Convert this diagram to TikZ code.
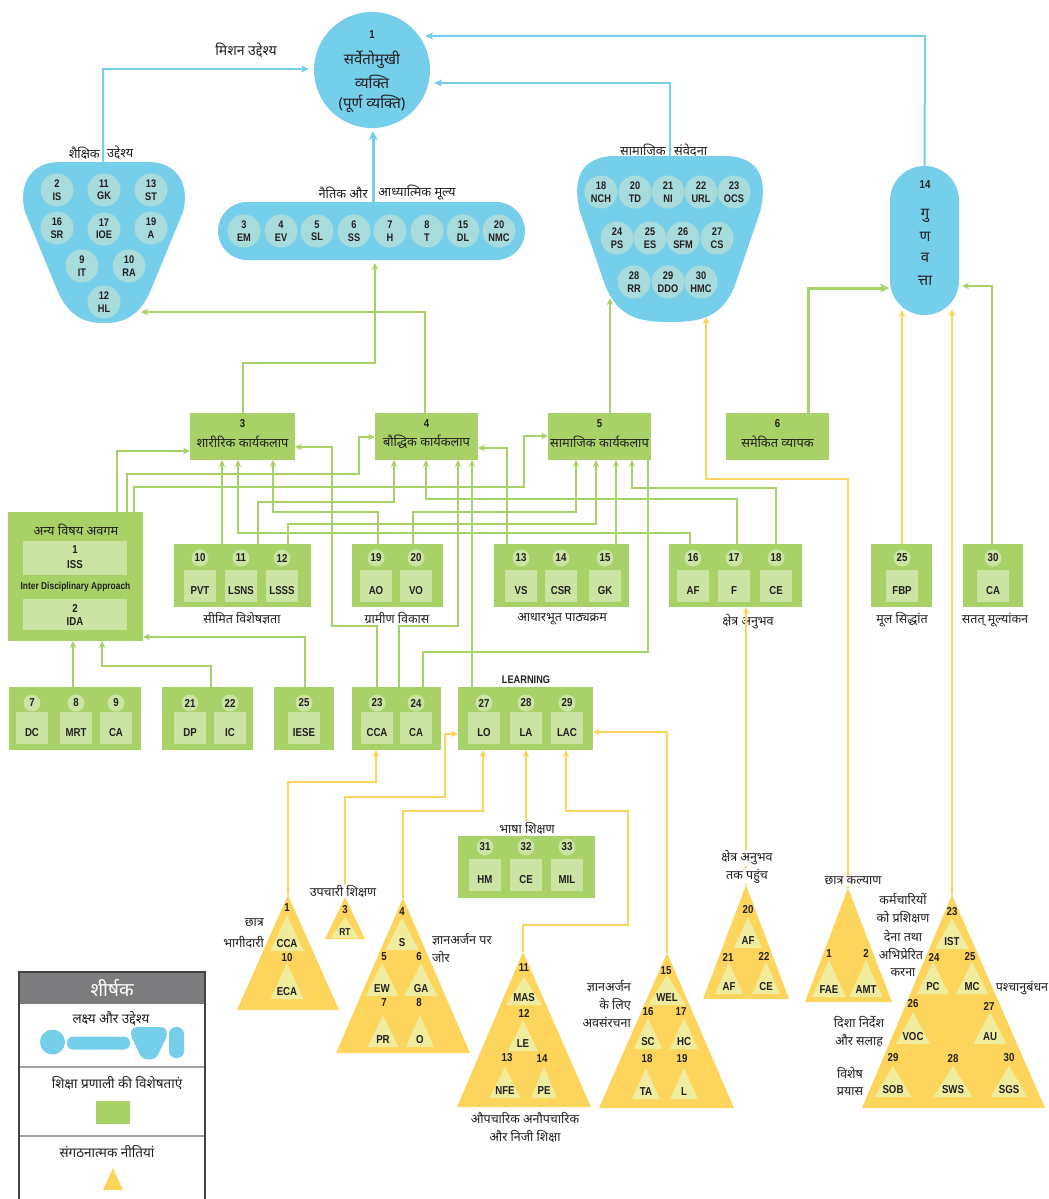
\documentclass[tikz,border=0pt]{standalone}
\usepackage{fontspec}
\setmainfont{Liberation Sans}
\newfontfamily\hin[Script=Devanagari]{Noto Sans}
\newfontfamily\cnd[FakeStretch=0.84]{Liberation Sans}
\usetikzlibrary{arrows.meta}
\definecolor{blu}{HTML}{75CFEB}
\definecolor{bin}{HTML}{A8DBDC}
\definecolor{grn}{HTML}{A8D168}
\definecolor{gin}{HTML}{CBE3A3}
\definecolor{yel}{HTML}{FDD55C}
\definecolor{yin}{HTML}{EFEC9E}
\definecolor{txt}{HTML}{231F20}
\definecolor{hdr}{HTML}{7C7C7E}
\definecolor{dvd}{HTML}{A3A3A3}
\newcommand\featitems[4]{%
  \foreach \cx/\nm/\lab in {#4}{%
    \node[ibox] (#1i\nm) at (\cx,#3) {};
    \node[ncirc] (#1n\nm) at (\cx,#2) {\nm};
    \node[cn] (#1l\nm) at (\cx,#3+21) {\lab};
  }}
\newcommand\itri[6]{%
  \fill[yin] (#2,#3) -- (#2-#5,#4) -- (#2+#5,#4) -- cycle;
  \node[cn] (#1) at (#2,#4-7) {#6};}
\begin{document}
\begin{tikzpicture}[x=1pt,y=-1pt,
  hin/.style={font=\hin\fontsize{12.5}{14}\selectfont, text=txt, inner sep=0},
  hinw/.style={hin, fill=white, inner sep=1pt},
  hinb/.style={font=\hin\fontsize{12.8}{14}\selectfont, text=txt, inner sep=0},
  hinl/.style={font=\hin\fontsize{13.5}{15}\selectfont, text=txt, inner sep=0},
  hinL/.style={font=\hin\fontsize{15}{18}\selectfont, text=txt, inner sep=0},
  cn/.style={font=\cnd\bfseries\fontsize{11.5}{12}\selectfont, text=txt, inner sep=0},
  bcirc/.style={circle, fill=bin, minimum size=33pt, inner sep=0, align=center, font=\cnd\bfseries\fontsize{11}{12.5}\selectfont, text=txt},
  gbox/.style={fill=grn, inner sep=0, outer sep=0, anchor=north west},
  ibox/.style={fill=gin, inner sep=0, outer sep=0, minimum width=32pt, minimum height=32pt, anchor=north},
  ncirc/.style={circle, fill=gin, minimum size=17pt, inner sep=0, font=\cnd\bfseries\fontsize{11.5}{12}\selectfont, text=txt},
  gl/.style={draw=grn, line width=2pt},
  ga/.style={gl, -{Stealth[length=7pt,width=6.5pt,inset=2pt]}},
  gat/.style={draw=grn, line width=3pt, -{Stealth[length=9pt,width=9pt,inset=2.5pt]}},
  yl/.style={draw=yel, line width=2pt},
  ya/.style={yl, -{Stealth[length=7pt,width=6.5pt,inset=2pt]}},
  ba/.style={draw=blu, line width=2pt, -{Stealth[length=8pt,width=7pt,inset=2pt]}},
  bat/.style={draw=blu, line width=3pt, -{Stealth[length=9pt,width=9pt,inset=2.5pt]}},
]
\useasboundingbox (0,0) rectangle (1049,1199);

% ---------------- blue goals ----------------
\node[circle, fill=blu, minimum size=116pt, inner sep=0] (main) at (372,70) {};
\node[cn] (m1) at (372,35) {1};
\node[hinL] (m2) at (372,60) {सर्वेतोमुखी};
\node[hinL] (m3) at (372,82) {व्यक्ति};
\node[hinL] (m4) at (372,104) {(पूर्ण व्यक्ति)};

% shaikshik blob
\fill[blu] (60,162) -- (148,162) .. controls (178,162) and (190,185) .. (183,212) -- (150,292) .. controls (138,318) and (122,323) .. (104,323) .. controls (86,323) and (70,318) .. (58,292) -- (25,212) .. controls (18,185) and (30,162) .. (60,162) -- cycle;
\coordinate (shtop) at (103,162);
\node[hinb, anchor=east] (shl1) at (100,153) {शैक्षिक};
\node[hinb, anchor=west] (shl2) at (107,153) {उद्देश्य};
\foreach \x/\y/\nm/\lab in {57/190/2/IS, 104/190/11/GK, 151/190/13/ST, 57/228/16/SR, 104/229/17/IOE, 151/228/19/A, 82/266/9/IT, 129/266/10/RA, 104/302/12/HL}
  \node[bcirc] (sh\nm) at (\x,\y) {\nm\\\lab};

% nitik pill
\node[fill=blu, rounded corners=29pt, minimum width=307pt, minimum height=58pt, inner sep=0] (nitik) at (371.5,231) {};
\node[hinb, anchor=east] (nil1) at (368,193) {नैतिक और};
\node[hinb, anchor=west] (nil2) at (378,193) {आध्यात्मिक मूल्य};
\foreach \x/\nm/\lab in {244/3/EM, 281/4/EV, 317/5/SL, 354/6/SS, 390/7/H, 427/8/T, 463/15/DL, 499/20/NMC}
  \node[bcirc] (ni\nm) at (\x,231) {\nm\\\lab};

% samajik blob
\fill[blu] (612,156) -- (728,156) .. controls (760,158) and (768,180) .. (760,212) -- (735,285) .. controls (722,318) and (700,322) .. (670,322) .. controls (640,322) and (618,318) .. (605,285) -- (580,212) .. controls (572,180) and (580,158) .. (612,156) -- cycle;
\coordinate (samtop) at (670,156);
\node[hinb, anchor=east] (sal1) at (666,150) {सामाजिक};
\node[hinb, anchor=west] (sal2) at (674,150) {संवेदना};
\foreach \x/\y/\nm/\lab in {601/192/18/NCH, 635/192/20/TD, 668/192/21/NI, 701/192/22/URL, 734/192/23/OCS, 617/238/24/PS, 650/238/25/ES, 683/238/26/SFM, 717/238/27/CS, 634/282/28/RR, 668/282/29/DDO, 701/282/30/HMC}
  \node[bcirc] (sa\nm) at (\x,\y) {\nm\\\lab};

% gunvatta
\node[fill=blu, rounded corners=34.5pt, minimum width=69pt, minimum height=149pt, inner sep=0] (gun) at (924.5,240.5) {};
\node[cn] (g0) at (925,185) {14};
\node[hinL] (g1) at (925,216) {गु};
\node[hinL] (g2) at (925,237) {ण};
\node[hinL] (g3) at (925,258) {व};
\node[hinL] (g4) at (925,281) {त्ता};

% blue connectors
\draw[ba] (shtop) -- (103,69) -- (309,69);
\node[font=\hin\fontsize{14}{16}\selectfont, text=txt, inner sep=0] (misl) at (246,50) {मिशन उद्देश्य};
\draw[ba] (samtop) -- (670,83) -- (434,83);
\draw[ba] (gun.north) -- (925,36) -- (425,36);
\draw[bat] (nitik.north -| 373,0) -- (373,131);

% ---------------- green boxes: top row ----------------
\node[gbox, minimum width=105pt, minimum height=47pt] (b3) at (190,413) {};
\node[cn] (b3n) at (242.5,424) {3};
\node[hinb] (b3t) at (242.5,442) {शारीरिक कार्यकलाप};
\node[gbox, minimum width=103pt, minimum height=47pt] (b4) at (375,413) {};
\node[cn] (b4n) at (426.5,424) {4};
\node[hinb] (b4t) at (426.5,442) {बौद्धिक कार्यकलाप};
\node[gbox, minimum width=103pt, minimum height=47pt] (b5) at (548,413) {};
\node[cn] (b5n) at (599.5,424) {5};
\node[hinb] (b5t) at (599.5,442) {सामाजिक कार्यकलाप};
\node[gbox, minimum width=103pt, minimum height=47pt] (b6) at (726,413) {};
\node[cn] (b6n) at (777.5,424) {6};
\node[hinb] (b6t) at (777.5,442) {समेकित व्यापक};

% middle row
\node[gbox, minimum width=135pt, minimum height=129pt] (anya) at (8,512) {};
\node[hinb] (anyat) at (76,530) {अन्य विषय अवगम};
\node[fill=gin, inner sep=0, minimum width=104pt, minimum height=34pt, anchor=north west] (iss) at (23,541) {};
\node[cn] (issn) at (75,550) {1};
\node[cn] (issl) at (75,565) {ISS};
\node[font=\cnd\bfseries\fontsize{10}{11}\selectfont, text=txt, inner sep=0] (ida0) at (75.5,587) {Inter Disciplinary Approach};
\node[fill=gin, inner sep=0, minimum width=104pt, minimum height=31pt, anchor=north west] (ida) at (23,599) {};
\node[cn] (idan) at (75,608) {2};
\node[cn] (idal) at (75,622) {IDA};

\node[gbox, minimum width=137pt, minimum height=63pt] (b1012) at (174,544) {};
\featitems{p}{558}{570}{200/10/PVT, 241/11/LSNS, 282/12/LSSS}
\node[hin] (b1012t) at (242,618) {सीमित विशेषज्ञता};
\node[gbox, minimum width=91pt, minimum height=63pt] (b1920) at (352,544) {};
\featitems{g}{558}{570}{376/19/AO, 416/20/VO}
\node[hin] (b1920t) at (397,618) {ग्रामीण विकास};
\node[gbox, minimum width=135pt, minimum height=63pt] (b1315) at (494,544) {};
\featitems{a}{558}{570}{521/13/VS, 561/14/CSR, 605/15/GK}
\node[hin] (b1315t) at (562,619) {आधारभूत पाठ्यक्रम};
\node[gbox, minimum width=133pt, minimum height=63pt] (b1618) at (669,544) {};
\featitems{k}{558}{570}{693/16/AF, 734/17/F, 776/18/CE}
\node[hin] (b1618t) at (748,622) {क्षेत्र अनुभव};
\node[gbox, minimum width=61pt, minimum height=63pt] (b25) at (871,544) {};
\featitems{m}{558}{570}{902/25/FBP}
\node[hin] (b25t) at (902,620) {मूल सिद्धांत};
\node[gbox, minimum width=60pt, minimum height=63pt] (b30) at (963,544) {};
\featitems{s}{558}{570}{993/30/CA}
\node[hin] (b30t) at (995,620) {सतत् मूल्यांकन};

% bottom row
\node[gbox, minimum width=132pt, minimum height=63pt] (b79) at (9,687) {};
\featitems{c}{703}{712}{32/7/DC, 76/8/MRT, 116/9/CA}
\node[gbox, minimum width=91pt, minimum height=63pt] (b2122) at (162,687) {};
\featitems{d}{703}{712}{190/21/DP, 230/22/IC}
\node[gbox, minimum width=60pt, minimum height=63pt] (biese) at (274,687) {};
\featitems{e}{703}{712}{304/25/IESE}
\node[gbox, minimum width=89pt, minimum height=63pt] (b2324) at (352,687) {};
\featitems{f}{703}{712}{377/23/CCA, 416/24/CA}
\node[gbox, minimum width=135pt, minimum height=63pt] (blrn) at (458,687) {};
\featitems{l}{703}{712}{484/27/LO, 526/28/LA, 567/29/LAC}
\node[cn, font=\cnd\bfseries\fontsize{11}{12}\selectfont] (lrnt) at (526,680) {LEARNING};
\node[gbox, minimum width=137pt, minimum height=62pt] (b3133) at (458,836) {};
\featitems{h}{847}{859}{485/31/HM, 526/32/CE, 567/33/MIL}

% ---------------- green connectors ----------------
\draw[ga] (b3.north -| 243,0) -- (243,363) -- (375,363) -- (375,263);
\draw[ga] (b4.north -| 425,0) -- (425,312) -- (141,312);
\draw[ga] (b5.north -| 610,0) -- (610,298);
\draw[gat] (b6.north -| 808,0) -- (808,288) -- (889,288);
\draw[ga] (b30.north -| 992,0) -- (992,286) -- (962,286);

\draw[ga] (anya.north -| 117,0) -- (117,451) -- (b3.west |- 0,451);
\draw[ga] (anya.north -| 127,0) -- (127,474) -- (359,474) -- (359,437) -- (b4.west |- 0,437);
\draw[ga] (anya.north -| 134,0) -- (134,487) -- (524,487) -- (524,436) -- (b5.west |- 0,436);
\draw[ga] (b1012.north -| 222,0) -- (b3.south -| 222,0);
\draw[ga] (b1012.north -| 258,0) -- (258,502) -- (394,502) -- (b4.south -| 394,0);
\draw[ga] (b1012.north -| 288,0) -- (288,524) -- (596,524) -- (b5.south -| 596,0);
\draw[ga] (b1920.north -| 378,0) -- (378,512) -- (273,512) -- (b3.south -| 273,0);
\draw[ga] (b1920.north -| 413,0) -- (413,512) -- (576,512) -- (b5.south -| 576,0);
\draw[ga] (b1315.north -| 507,0) -- (507,448) -- (b4.east |- 0,448);
\draw[ga] (b1315.north -| 616,0) -- (b5.south -| 616,0);
\draw[ga] (b1618.north -| 690,0) -- (690,533) -- (238,533) -- (b3.south -| 238,0);
\draw[ga] (b1618.north -| 737,0) -- (737,499) -- (426,499) -- (b4.south -| 426,0);
\draw[ga] (b1618.north -| 776,0) -- (776,488) -- (632,488) -- (b5.south -| 632,0);
\draw[ga] (b2324.north -| 377,0) -- (377,626) -- (332,626) -- (332,447) -- (b3.east |- 0,447);
\draw[ga] (b2324.north -| 399,0) -- (399,626) -- (458,626) -- (b4.south -| 458,0);
\draw[gl] (b2324.north -| 423,0) -- (423,652) -- (648,652) -- (b5.south -| 648,0);
\draw[ga] (blrn.north -| 472,0) -- (b4.south -| 472,0);
\draw[ga] (b79.north -| 73,0) -- (anya.south -| 73,0);
\draw[ga] (b2122.north -| 211,0) -- (211,666) -- (102,666) -- (anya.south -| 102,0);
\draw[ga] (biese.north -| 305,0) -- (305,637) -- (anya.east |- 0,637);

% ---------------- yellow connectors ----------------
\coordinate (t1) at (288,895);
\coordinate (t3) at (345,897);
\coordinate (t4) at (403,898);
\coordinate (t11) at (523,952);
\coordinate (t15) at (667,953);
\coordinate (t20) at (746,885);
\coordinate (tck) at (848,888);
\coordinate (t23) at (952,895);
\draw[ya] (b25.north -| 902,0) -- (902,310);
\draw[ya] (t23) -- (952,309);
\draw[ya] (tck) -- (848,479) -- (706,479) -- (706,317);
\draw[ya] (t20) -- (b1618.south -| 746,0);
\draw[ya] (t15) -- (667,732) -- (blrn.east |- 0,732);
\draw[ya] (t11) -- (523,925) -- (628,925) -- (628,811) -- (566,811) -- (blrn.south -| 566,0);
\draw[ya] (b3133.north -| 526,0) -- (blrn.south -| 526,0);
\node[hin, fill=white, inner sep=1pt] (b3133t) at (527,828) {भाषा शिक्षण};
\draw[ya] (t4) -- (403,811) -- (483,811) -- (blrn.south -| 483,0);
\draw[ya] (t3) -- (345,797) -- (445,797) -- (445,734) -- (blrn.west |- 0,734);
\draw[ya] (t1) -- (288,782) -- (376,782) -- (b2324.south -| 376,0);

% ---------------- triangles ----------------
% T1
\fill[yel] (t1) -- (237,1010) -- (339,1010) -- cycle;
\itri{t1a}{287}{915}{951}{16.5}{CCA}
\itri{t1b}{287}{963}{999}{16.5}{ECA}
\node[cn] (t1n1) at (287,908) {1};
\node[cn] (t1n2) at (287,958) {10};
\node[hin, anchor=east] (t1l1) at (264,923) {छात्र};
\node[hin, anchor=east] (t1l2) at (264,942) {भागीदारी};
% T3
\fill[yel] (t3) -- (325,939) -- (365,939) -- cycle;
\fill[yin] (345,917) -- (331,938) -- (359,938) -- cycle;
\node[cn] (t3n) at (345,910) {3};
\node[cn, font=\cnd\bfseries\fontsize{10}{11}\selectfont] (t3l) at (345,932) {RT};
\node[hinw] (t3t) at (343,891) {उपचारी शिक्षण};
% T4
\fill[yel] (t4) -- (336,1053) -- (470,1053) -- cycle;
\itri{t4a}{402}{918}{950}{16.5}{S}
\itri{t4b}{382}{963}{996}{16.5}{EW}
\itri{t4c}{421}{963}{996}{16.5}{GA}
\itri{t4d}{383}{1015}{1047}{15.5}{PR}
\itri{t4e}{420}{1015}{1047}{14}{O}
\node[cn] (t4n4) at (402,912) {4};
\node[cn] (t4n5) at (384,957) {5};
\node[cn] (t4n6) at (419,957) {6};
\node[cn] (t4n7) at (384,1003) {7};
\node[cn] (t4n8) at (419,1003) {8};
\node[hin, anchor=west] (t4l1) at (432,939) {ज्ञानअर्जन पर};
\node[hin, anchor=west] (t4l2) at (432,957) {जोर};
% T11
\fill[yel] (t11) -- (457,1107) -- (591,1107) -- cycle;
\itri{t11a}{524}{977}{1005}{18}{MAS}
\itri{t11b}{523}{1020}{1051}{15}{LE}
\itri{t11c}{505}{1067}{1098}{15.5}{NFE}
\itri{t11d}{544}{1067}{1098}{13}{PE}
\node[cn] (t11n1) at (524,968) {11};
\node[cn] (t11n2) at (524,1013) {12};
\node[cn] (t11n3) at (507,1058) {13};
\node[cn] (t11n4) at (542,1059) {14};
\node[hin] (t11l1) at (525,1118) {औपचारिक अनौपचारिक};
\node[hin] (t11l2) at (525,1136) {और निजी शिक्षा};
% T15
\fill[yel] (t15) -- (599,1108) -- (734,1108) -- cycle;
\itri{t15a}{667}{975}{1005}{19}{WEL}
\itri{t15b}{648}{1018}{1049}{14}{SC}
\itri{t15c}{684}{1018}{1049}{14}{HC}
\itri{t15d}{646}{1068}{1099}{14}{TA}
\itri{t15e}{684}{1068}{1099}{14}{L}
\node[cn] (t15n1) at (666,971) {15};
\node[cn] (t15n2) at (648,1012) {16};
\node[cn] (t15n3) at (681,1012) {17};
\node[cn] (t15n4) at (647,1059) {18};
\node[cn] (t15n5) at (682,1059) {19};
\node[hin, anchor=east] (t15l1) at (631,986) {ज्ञानअर्जन};
\node[hin, anchor=east] (t15l2) at (631,1004) {के लिए};
\node[hin, anchor=east] (t15l3) at (631,1022) {अवसंरचना};
% T20
\fill[yel] (t20) -- (703,999) -- (789,999) -- cycle;
\itri{t20a}{748}{917}{948}{14}{AF}
\itri{t20b}{729}{962}{994}{14}{AF}
\itri{t20c}{766}{962}{994}{14}{CE}
\node[cn] (t20n1) at (748,910) {20};
\node[cn] (t20n2) at (728,957) {21};
\node[cn] (t20n3) at (764,956) {22};
\node[hinw] (t20l1) at (747,858) {क्षेत्र अनुभव};
\node[hinw] (t20l2) at (747,876) {तक पहुंच};
% T chhatra kalyan
\fill[yel] (tck) -- (805,1002) -- (892,1002) -- cycle;
\itri{tcka}{829}{960}{997}{17}{FAE}
\itri{tckb}{866}{960}{997}{16.5}{AMT}
\node[cn] (tckn1) at (829,954) {1};
\node[cn] (tckn2) at (866,953) {2};
\node[hinw] (tckl) at (853,881) {छात्र कल्याण};
% T23
\fill[yel] (t23) -- (862,1108) -- (1045,1108) -- cycle;
\itri{t23a}{952}{918}{949}{17}{IST}
\itri{t23b}{933}{962}{994}{16}{PC}
\itri{t23c}{972}{962}{994}{16}{MC}
\itri{t23d}{913}{1012}{1044}{17}{VOC}
\itri{t23e}{990}{1012}{1044}{16.5}{AU}
\itri{t23f}{893}{1066}{1097}{18.5}{SOB}
\itri{t23g}{953}{1066}{1097}{19.5}{SWS}
\itri{t23h}{1009}{1066}{1097}{18.5}{SGS}
\node[cn] (t23n1) at (952,912) {23};
\node[cn] (t23n2) at (934,957) {24};
\node[cn] (t23n3) at (970,957) {25};
\node[cn] (t23n4) at (913,1004) {26};
\node[cn] (t23n5) at (989,1006) {27};
\node[cn] (t23n6) at (893,1058) {29};
\node[cn] (t23n7) at (953,1059) {28};
\node[cn] (t23n8) at (1009,1058) {30};
\node[hin] (t23l1) at (903,899) {कर्मचारियों};
\node[hin] (t23l2) at (903,917) {को प्रशिक्षण};
\node[hin] (t23l3) at (903,936) {देना तथा};
\node[hin] (t23l4) at (901,954) {अभिप्रेरित};
\node[hin] (t23l5) at (903,973) {करना};
\node[hin] (t23l6) at (1022,988) {पश्चानुबंधन};
\node[hin] (t23l7) at (859,1022) {दिशा निर्देश};
\node[hin] (t23l8) at (859,1041) {और सलाह};
\node[hin] (t23l9) at (850,1073) {विशेष};
\node[hin] (t23l10) at (850,1092) {प्रयास};

% ---------------- legend ----------------
\fill[hdr] (19,972) rectangle (205,1004);
\node[font=\hin\fontsize{19}{22}\selectfont, text=white, inner sep=0] (legh) at (112,988) {शीर्षक};
\draw[draw=dvd, line width=1.5pt] (19,1067) -- (205,1067);
\draw[draw=dvd, line width=1.5pt] (19,1136) -- (205,1136);
\draw[draw=txt!85, line width=1.3pt] (19,1202) -- (19,972) -- (205,972) -- (205,1202);
\node[hinl] (leg1) at (111,1019) {लक्ष्य और उद्देश्य};
\node[circle, fill=blu, minimum size=25pt, inner sep=0] (legc) at (52.5,1042) {};
\node[fill=blu, rounded corners=6pt, minimum width=63pt, minimum height=13pt, inner sep=0] (legp) at (98.5,1043) {};
\fill[blu] (137,1027) -- (161,1027) .. controls (167,1027) and (168,1033) .. (166,1038) -- (158,1055) .. controls (155,1061) and (143,1061) .. (140,1055) -- (132,1038) .. controls (130,1033) and (131,1027) .. (137,1027) -- cycle;
\node[fill=blu, rounded corners=7pt, minimum width=15pt, minimum height=31pt, inner sep=0] (legv) at (176.5,1042.5) {};
\node[hinl] (leg2) at (117,1083) {शिक्षा प्रणाली की विशेषताएं};
\node[fill=grn, minimum width=34pt, minimum height=23pt, inner sep=0] (legg) at (113,1112.5) {};
\node[hinl] (leg3) at (107,1152) {संगठनात्मक नीतियां};
\fill[yel] (113,1168) -- (103,1190) -- (123,1190) -- cycle;
\end{tikzpicture}
\end{document}
